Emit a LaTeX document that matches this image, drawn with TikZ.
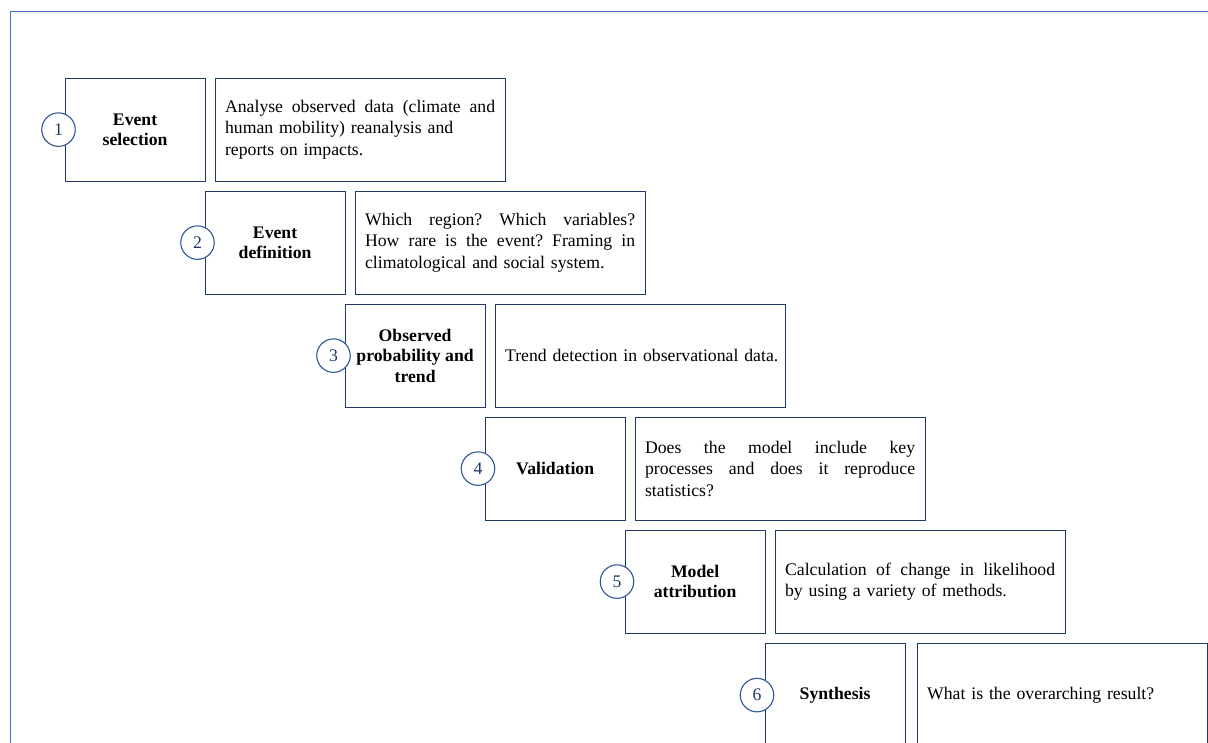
\documentclass[tikz,border=0pt]{standalone}
\usepackage{fontspec}
\setmainfont{Liberation Serif}
\definecolor{navy}{HTML}{1F3864}
\definecolor{circ}{HTML}{2F5597}
\definecolor{framec}{HTML}{4472C4}
\newcommand\jline[1]{\leavevmode\hbox to 270pt{\spaceskip=0.25em plus 3em\relax #1}}
\frenchspacing
\begin{document}
\begin{tikzpicture}[x=1pt,y=-1pt,
  lbl/.style={draw=navy, line width=1.2pt, fill=white, minimum width=140pt, minimum height=103pt, anchor=north west, align=center, font=\fontsize{17.7}{20.5}\selectfont\bfseries\frenchspacing, inner sep=0pt},
  txt/.style={draw=navy, line width=1.2pt, minimum width=290pt, minimum height=103pt, anchor=north west, text width=270pt, inner xsep=10pt, inner ysep=0pt, align=left, font=\fontsize{17.7}{21.5}\selectfont\frenchspacing},
  num/.style={circle, draw=circ, line width=1.1pt, fill=white, minimum size=33.5pt, inner sep=0pt, text=navy, font=\fontsize{17.7}{20}\selectfont}]
\useasboundingbox (0,0) rectangle (1208,742);
\clip (0,0) rectangle (1208,742);
\draw[framec, line width=1.5pt] (10.5,746) -- (10.5,11.5) -- (1212,11.5);
% step 1
\node[lbl] (l1) at (64.5,77.5) {Event\\selection};
\node[txt] (t1) at (214.5,77.5) {\jline{Analyse observed data (climate and}\\human mobility) reanalysis and\\reports on impacts.};
\node[num] (c1) at ([xshift=-6pt]l1.west) {1};
% step 2
\node[lbl] (l2) at (204.5,190.5) {Event\\definition};
\node[txt] (t2) at (354.5,190.5) {\jline{Which region? Which variables?}\\\jline{How rare is the event? Framing in}\\climatological and social system.};
\node[num] (c2) at ([xshift=-7pt]l2.west) {2};
% step 3
\node[lbl] (l3) at (344.5,303.5) {Observed\\probability and\\trend};
\node[txt] (t3) at (494.5,303.5) {\mbox{Trend detection in observational data.}};
\node[num] (c3) at ([xshift=-11pt]l3.west) {3};
% step 4
\node[lbl] (l4) at (484.5,416.5) {Validation};
\node[txt] (t4) at (634.5,416.5) {\jline{Does the model include key}\\\jline{processes and does it reproduce}\\statistics?};
\node[num] (c4) at ([xshift=-6.5pt]l4.west) {4};
% step 5
\node[lbl] (l5) at (624.5,529.5) {Model\\attribution};
\node[txt] (t5) at (774.5,529.5) {\jline{Calculation of change in likelihood}\\by using a variety of methods.};
\node[num] (c5) at ([xshift=-7.5pt]l5.west) {5};
% step 6
\node[lbl, minimum height=104pt] (l6) at (764.5,642.5) {Synthesis};
\node[txt, minimum height=104pt] (t6) at (916.5,642.5) {\mbox{What is the overarching result?}};
\node[num] (c6) at ([xshift=-7.5pt]l6.west) {6};
\end{tikzpicture}
\end{document}
